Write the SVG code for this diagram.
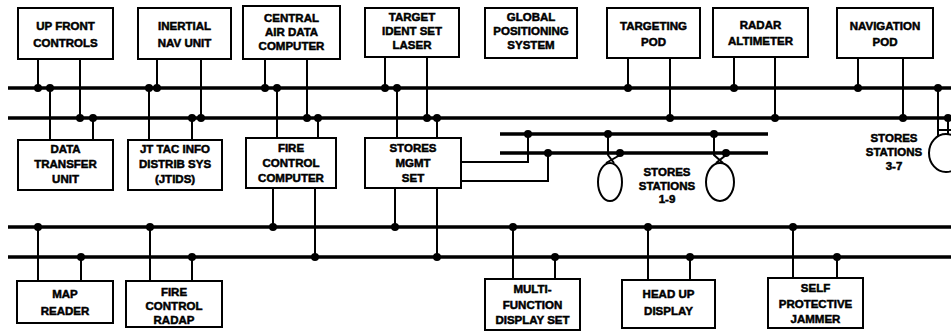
<svg xmlns="http://www.w3.org/2000/svg" width="951" height="334" viewBox="0 0 951 334">
<style>
.box{fill:#fff;stroke:#000;stroke-width:2}
.bus{stroke:#000;stroke-width:3.5;fill:none}
.ln{stroke:#000;stroke-width:2;fill:none}
.dot{fill:#000}
.st{fill:none;stroke:#000;stroke-width:2}
text{font-family:"Liberation Sans",Arial,sans-serif;font-weight:bold;font-size:11.5px;text-anchor:middle;fill:#000;stroke:#000;stroke-width:0.5}
</style>
<rect width="951" height="334" fill="#fff"/>
<g id="connectors">
  <path class="bus" d="M8 88H951M8 118H951M8 227H951M8 257H951M500 134H768M500 153H768"/>
  <path class="ln" d="M38 59V88M80 59V118M157 59V88M201 59V118M265 59V88M307 59V118M385 57V88M427 57V118M628 58V88M670 58V118M734 57V88M775 57V118M858 58V88M903 58V118"/>
  <path class="ln" d="M50 88V140M93 118V140M149 88V140M192 118V140M277 88V138M318 118V138M273 188V227M315 188V257M397 88V138M437 118V138M395 188V227M437 188V257"/>
  <path class="ln" d="M461 162H528V134M461 181H548V153"/>
  <path class="ln" d="M38 227V281M81 257V281M150 227V281M192 257V281M513 227V279M555 257V279M648 227V280M690 257V280M793 227V278M837 257V278"/>
  <path class="ln" d="M608 134V155L614 163M620 153V155L606 163M714 134V155L723 163M726 153V155L716 163M938 88V136M948 118V134M938 130H951"/>
  <g class="dot">
    <circle cx="38" cy="88" r="4"/><circle cx="50" cy="88" r="4"/><circle cx="149" cy="88" r="4"/><circle cx="157" cy="88" r="4"/><circle cx="265" cy="88" r="4"/><circle cx="277" cy="88" r="4"/><circle cx="385" cy="88" r="4"/><circle cx="397" cy="88" r="4"/><circle cx="628" cy="88" r="4"/><circle cx="734" cy="88" r="4"/><circle cx="858" cy="88" r="4"/><circle cx="938" cy="88" r="4"/>
    <circle cx="80" cy="118" r="4"/><circle cx="93" cy="118" r="4"/><circle cx="192" cy="118" r="4"/><circle cx="201" cy="118" r="4"/><circle cx="307" cy="118" r="4"/><circle cx="318" cy="118" r="4"/><circle cx="427" cy="118" r="4"/><circle cx="437" cy="118" r="4"/><circle cx="670" cy="118" r="4"/><circle cx="775" cy="118" r="4"/><circle cx="903" cy="118" r="4"/><circle cx="948" cy="118" r="4"/>
    <circle cx="528" cy="134" r="4"/><circle cx="608" cy="134" r="4"/><circle cx="714" cy="134" r="4"/>
    <circle cx="548" cy="153" r="4"/><circle cx="620" cy="153" r="4"/><circle cx="726" cy="153" r="4"/>
    <circle cx="38" cy="227" r="4"/><circle cx="150" cy="227" r="4"/><circle cx="273" cy="227" r="4"/><circle cx="395" cy="227" r="4"/><circle cx="513" cy="227" r="4"/><circle cx="648" cy="227" r="4"/><circle cx="793" cy="227" r="4"/>
    <circle cx="81" cy="257" r="4"/><circle cx="192" cy="257" r="4"/><circle cx="315" cy="257" r="4"/><circle cx="437" cy="257" r="4"/><circle cx="555" cy="257" r="4"/><circle cx="690" cy="257" r="4"/><circle cx="837" cy="257" r="4"/>
  </g>
</g>
<g id="upfront"><rect class="box" x="18" y="8" width="95" height="51"/><text x="65.5" y="30">UP FRONT</text><text x="65.5" y="47">CONTROLS</text></g>
<g id="ins"><rect class="box" x="138" y="8" width="93" height="51"/><text x="184.5" y="30">INERTIAL</text><text x="184.5" y="47">NAV UNIT</text></g>
<g id="cadc"><rect class="box" x="243" y="6" width="97" height="53"/><text x="291.5" y="22">CENTRAL</text><text x="291.5" y="36">AIR DATA</text><text x="291.5" y="50">COMPUTER</text></g>
<g id="tisl"><rect class="box" x="365" y="8" width="94" height="49"/><text x="412" y="21">TARGET</text><text x="412" y="35">IDENT SET</text><text x="412" y="49">LASER</text></g>
<g id="gps"><rect class="box" x="485" y="8" width="92" height="50"/><text x="531" y="21">GLOBAL</text><text x="531" y="35">POSITIONING</text><text x="531" y="49">SYSTEM</text></g>
<g id="tpod"><rect class="box" x="607" y="8" width="93" height="50"/><text x="653.5" y="30">TARGETING</text><text x="653.5" y="46">POD</text></g>
<g id="radalt"><rect class="box" x="713" y="8" width="95" height="49"/><text x="760.5" y="29">RADAR</text><text x="760.5" y="45">ALTIMETER</text></g>
<g id="navpod"><rect class="box" x="837" y="8" width="96" height="50"/><text x="885" y="30">NAVIGATION</text><text x="885" y="46">POD</text></g>
<g id="dtu"><rect class="box" x="18" y="140" width="95" height="50"/><text x="65.5" y="153">DATA</text><text x="65.5" y="168">TRANSFER</text><text x="65.5" y="183">UNIT</text></g>
<g id="jtids"><rect class="box" x="128" y="140" width="94" height="50"/><text x="175" y="153">JT TAC INFO</text><text x="175" y="168">DISTRIB SYS</text><text x="175" y="183">(JTIDS)</text></g>
<g id="fcc"><rect class="box" x="246" y="138" width="90" height="50"/><text x="291" y="152">FIRE</text><text x="291" y="167">CONTROL</text><text x="291" y="182">COMPUTER</text></g>
<g id="sms"><rect class="box" x="365" y="138" width="96" height="50"/><text x="413" y="152">STORES</text><text x="413" y="167">MGMT</text><text x="413" y="182">SET</text></g>
<g id="stores19"><ellipse class="st" cx="610" cy="182" rx="12" ry="19"/><ellipse class="st" cx="720" cy="182" rx="14" ry="19"/><text x="667" y="176">STORES</text><text x="667" y="190">STATIONS</text><text x="667" y="203">1-9</text></g>
<g id="stores37"><ellipse class="st" cx="946" cy="153" rx="17" ry="19"/><text x="894" y="142">STORES</text><text x="894" y="156">STATIONS</text><text x="894" y="170">3-7</text></g>
<g id="mapreader"><rect class="box" x="17" y="281" width="96" height="42"/><text x="65" y="298">MAP</text><text x="65" y="315">READER</text></g>
<g id="fcr"><rect class="box" x="126" y="281" width="96" height="46"/><text x="174" y="296">FIRE</text><text x="174" y="310">CONTROL</text><text x="174" y="324">RADAP</text></g>
<g id="mfd"><rect class="box" x="485" y="279" width="95" height="51"/><text x="532.5" y="293">MULTI-</text><text x="532.5" y="308.5">FUNCTION</text><text x="532.5" y="324">DISPLAY SET</text></g>
<g id="hud"><rect class="box" x="622" y="280" width="93" height="48"/><text x="668.5" y="298">HEAD UP</text><text x="668.5" y="315">DISPLAY</text></g>
<g id="spj"><rect class="box" x="768" y="278" width="95" height="50"/><text x="815.5" y="292">SELF</text><text x="815.5" y="308">PROTECTIVE</text><text x="815.5" y="323">JAMMER</text></g>
</svg>
